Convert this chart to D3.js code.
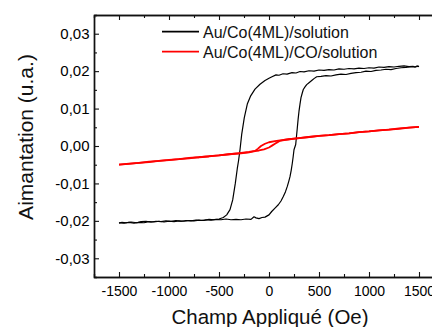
<!DOCTYPE html>
<html>
<head>
<meta charset="utf-8">
<script src="https://cdn.jsdelivr.net/npm/d3@7"></script>
<style>
  body { margin: 0; background: #fff; }
  svg { display: block; font-family: 'Liberation Sans', Arial, sans-serif; }
</style>
</head>
<body>
<svg></svg>
<script>
// black loop, field sweep down (Oe) and moment (u.a.)
let blackDescH = [1500, 1480, 1460, 1440, 1400, 1350, 1300, 1250, 1200, 1150, 1100, 1050, 1000, 950, 900, 850, 800, 750, 700, 650, 600, 550, 500, 450, 400, 350, 310, 270, 230, 180, 140, 100, 70, 30, 0, -40, -90, -140, -183, -217, -247, -273, -290, -305, -317, -337, -363, -390, -423, -457, -500, -550, -600, -650, -700, -750, -800, -850, -900, -950, -1000, -1050, -1100, -1150, -1200, -1250, -1300, -1350, -1400, -1450, -1500]
let blackDescM = [0.0212, 0.0214, 0.0211, 0.0213, 0.0212, 0.0214, 0.0213, 0.0211, 0.0212, 0.0210, 0.0211, 0.0208, 0.0209, 0.0207, 0.0208, 0.0206, 0.0207, 0.0205, 0.0206, 0.0203, 0.0204, 0.0202, 0.0203, 0.0200, 0.0201, 0.0198, 0.0199, 0.0195, 0.0196, 0.0192, 0.0193, 0.0189, 0.0190, 0.0185, 0.0181, 0.0175, 0.0165, 0.0152, 0.0134, 0.0112, 0.0076, 0.0031, -0.0010, -0.0040, -0.0060, -0.0100, -0.0144, -0.0170, -0.0184, -0.0191, -0.0195, -0.0197, -0.0196, -0.0199, -0.0198, -0.0200, -0.0199, -0.0201, -0.0200, -0.0202, -0.0201, -0.0203, -0.0201, -0.0203, -0.0202, -0.0205, -0.0204, -0.0206, -0.0204, -0.0206, -0.0205]

// black loop, field sweep up
let blackAscH = [-1500, -1470, -1430, -1380, -1320, -1280, -1230, -1180, -1130, -1080, -1030, -980, -930, -880, -830, -780, -730, -680, -630, -580, -530, -480, -430, -380, -330, -280, -230, -180, -150, -130, -100, -70, -40, 0, 27, 60, 93, 120, 143, 165, 183, 197, 210, 222, 233, 242, 250, 267, 275, 283, 291, 300, 310, 320, 332, 343, 360, 377, 400, 427, 450, 477, 520, 570, 620, 670, 720, 770, 820, 870, 920, 970, 1020, 1070, 1120, 1170, 1220, 1270, 1320, 1370, 1420, 1460, 1500]
let blackAscM = [-0.0206, -0.0204, -0.0205, -0.0203, -0.0205, -0.0202, -0.0201, -0.0203, -0.0201, -0.0202, -0.0200, -0.0201, -0.0199, -0.0201, -0.0199, -0.0200, -0.0198, -0.0199, -0.0197, -0.0198, -0.0196, -0.0197, -0.0195, -0.0197, -0.0196, -0.0197, -0.0195, -0.0196, -0.0189, -0.0192, -0.0194, -0.0191, -0.0190, -0.0184, -0.0175, -0.0166, -0.0157, -0.0147, -0.0135, -0.0122, -0.0108, -0.0095, -0.0082, -0.0065, -0.0046, -0.0028, -0.0010, 0.0004, 0.0026, 0.0048, 0.0071, 0.0093, 0.0112, 0.0129, 0.0141, 0.0151, 0.0158, 0.0164, 0.0169, 0.0175, 0.0180, 0.0185, 0.0186, 0.0188, 0.0187, 0.0190, 0.0192, 0.0191, 0.0194, 0.0196, 0.0197, 0.0200, 0.0199, 0.0202, 0.0203, 0.0205, 0.0204, 0.0207, 0.0209, 0.0210, 0.0212, 0.0211, 0.0213]

// red loop (with CO), sweep down then up
let redDescH = [1500, 1400, 1300, 1200, 1100, 1000, 900, 800, 700, 600, 500, 400, 300, 200, 110, 60, 0, -40, -80, -110, -140, -200, -300, -400, -500, -600, -700, -800, -900, -1000, -1100, -1200, -1300, -1400, -1500]
let redDescM = [0.0051, 0.0049, 0.0046, 0.0044, 0.0042, 0.0039, 0.0037, 0.0034, 0.0032, 0.0029, 0.0027, 0.0024, 0.0021, 0.0018, 0.0015, 0.0013, 0.0010, 0.0006, 0.0000, -0.0007, -0.0013, -0.0016, -0.0019, -0.0022, -0.0025, -0.0027, -0.0030, -0.0032, -0.0035, -0.0037, -0.0040, -0.0042, -0.0045, -0.0047, -0.0050]
let redAscH = [-1500, -1400, -1300, -1200, -1100, -1000, -900, -800, -700, -600, -500, -400, -300, -200, -140, -100, -50, 0, 30, 60, 90, 110, 150, 200, 300, 400, 500, 600, 700, 800, 900, 1000, 1100, 1200, 1300, 1400, 1500]
let redAscM = [-0.0050, -0.0048, -0.0045, -0.0043, -0.0040, -0.0038, -0.0035, -0.0033, -0.0030, -0.0028, -0.0025, -0.0022, -0.0020, -0.0017, -0.0014, -0.0012, -0.0009, -0.0004, 0.0001, 0.0006, 0.0011, 0.0014, 0.0016, 0.0018, 0.0021, 0.0024, 0.0027, 0.0029, 0.0032, 0.0034, 0.0037, 0.0039, 0.0042, 0.0044, 0.0047, 0.0049, 0.0051]

let xTicks = [-1500, -1000, -500, 0, 500, 1000, 1500]
let xMinorTicks = [-1250, -750, -250, 250, 750, 1250, 1750]
let yTicks = [-0.03, -0.02, -0.01, 0, 0.01, 0.02, 0.03]
let yMinorTicks = [-0.025, -0.015, -0.005, 0.005, 0.015, 0.025]

let legendLabels = ['Au/Co(4ML)/solution', 'Au/Co(4ML)/CO/solution']
let legendColors = ['#000', '#ff0000']

let width = 432
let height = 327

let svg = d3.select('svg').attr('width', width).attr('height', height)

let xScale = d3.scaleLinear().domain([-1750, 1750]).range([94, 444])
let yScale = d3.scaleLinear().domain([-0.035, 0.035]).range([277, 15])

let xFormat = (d) => String(d)
let yFormat = (d) => d3.format('.2f')(d).replace('.', ',').replace('\u2212', '-')

let drawAxes = () => {
    // minor ticks first, pointing inward
    svg.append('g')
        .attr('transform', 'translate(0,277)')
        .call(d3.axisBottom(xScale).tickValues(xMinorTicks).tickSize(-3).tickFormat(''))
    svg.append('g')
        .attr('transform', 'translate(0,15)')
        .call(d3.axisTop(xScale).tickValues(xMinorTicks).tickSize(-3).tickFormat(''))
    svg.append('g')
        .attr('transform', 'translate(94,0)')
        .call(d3.axisLeft(yScale).tickValues(yMinorTicks).tickSize(-3).tickFormat(''))

    let xAxis = svg.append('g')
        .attr('transform', 'translate(0,277)')
        .call(d3.axisBottom(xScale).tickValues(xTicks).tickSizeInner(-5).tickSizeOuter(0).tickPadding(9).tickFormat(xFormat))
    xAxis.selectAll('text').style('font-size', '14px').attr('fill', '#000')

    svg.append('g')
        .attr('transform', 'translate(0,15)')
        .call(d3.axisTop(xScale).tickValues(xTicks).tickSizeInner(-5).tickSizeOuter(0).tickFormat(''))

    let yAxis = svg.append('g')
        .attr('transform', 'translate(94,0)')
        .call(d3.axisLeft(yScale).tickValues(yTicks).tickSizeInner(-5).tickSizeOuter(0).tickPadding(4.5).tickFormat(yFormat))
    yAxis.selectAll('text').style('font-size', '15px').attr('fill', '#000')

    svg.selectAll('.domain').attr('stroke', '#111').attr('stroke-width', 1.4)
    svg.selectAll('.tick line').attr('stroke', '#111').attr('stroke-width', 1.1)
    svg.selectAll('.tick text').style('font-family', "'Liberation Sans', Arial, sans-serif")
}

let drawCurve = (hs, ms, color, w) => {
    let pts = hs.map((h, i) => [h, ms[i]])
    let line = d3.line()
        .x((d) => xScale(d[0]))
        .y((d) => yScale(d[1]))
    svg.append('path')
        .datum(pts)
        .attr('d', line)
        .attr('fill', 'none')
        .attr('stroke', color)
        .attr('stroke-width', w)
        .attr('stroke-linejoin', 'round')
}

let drawLegend = () => {
    legendLabels.forEach((label, i) => {
        let y = 31.7 + i * 20
        svg.append('line')
            .attr('x1', 162).attr('x2', 199)
            .attr('y1', y).attr('y2', y)
            .attr('stroke', legendColors[i])
            .attr('stroke-width', 1.8)
        svg.append('text')
            .attr('x', 203)
            .attr('y', y + 6)
            .style('font-size', '16px')
            .attr('fill', '#111')
            .text(label)
    })
}

let drawTitles = () => {
    svg.append('text')
        .attr('x', 270)
        .attr('y', 324)
        .attr('text-anchor', 'middle')
        .style('font-size', '20.5px')
        .attr('fill', '#111')
        .text('Champ Appliqué (Oe)')

    svg.append('text')
        .attr('transform', 'translate(33,137) rotate(-90)')
        .attr('text-anchor', 'middle')
        .style('font-size', '21px')
        .attr('fill', '#111')
        .text('Aimantation (u.a.)')
}

drawAxes()
drawCurve(blackDescH, blackDescM, '#000', 1.2)
drawCurve(blackAscH, blackAscM, '#000', 1.2)
drawCurve(redDescH, redDescM, '#ff0000', 1.8)
drawCurve(redAscH, redAscM, '#ff0000', 1.8)
drawLegend()
drawTitles()
</script>
</body>
</html>
